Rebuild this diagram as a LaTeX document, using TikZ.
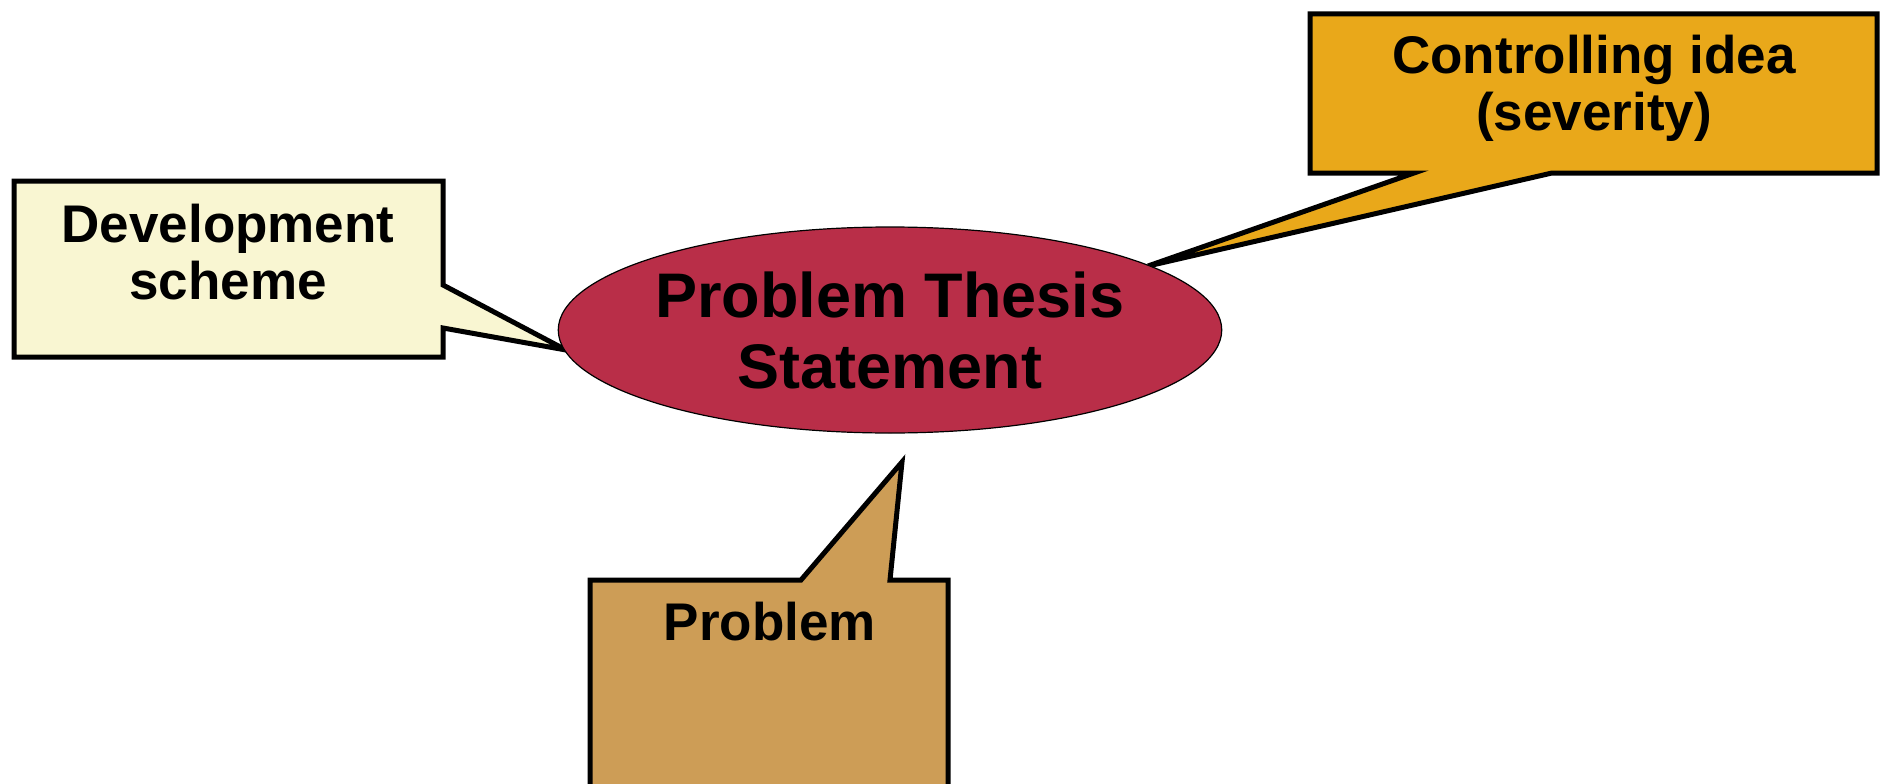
\documentclass[tikz,border=0pt]{standalone}
\usepackage{fontspec}
\setmainfont{Liberation Sans}
\usetikzlibrary{shapes.geometric}
\definecolor{devYellow}{RGB}{249,246,210}
\definecolor{ideaGold}{RGB}{233,168,26}
\definecolor{probTan}{RGB}{205,157,86}
\definecolor{thesisRed}{RGB}{185,46,72}

\begin{document}
\begin{tikzpicture}[x=1pt, y=-1pt,
  bubble/.style={draw=black, line width=5pt, line join=miter},
  lbl/.style={font=\bfseries\fontsize{53}{57}\selectfont, align=center, inner sep=0pt}]
  \useasboundingbox (0,0) rectangle (1882,784);
  \clip (0,0) rectangle (1882,784);
  \coordinate (devtip) at (566,350);
  \coordinate (ideatip) at (1148,266);
  \coordinate (probtip) at (902,462);
  \draw[bubble, fill=devYellow] (14,181) -- (443,181) -- (443,285) -- (devtip)
    -- (443,328) -- (443,357) -- (14,357) -- cycle;
  \draw[bubble, fill=ideaGold] (1310,14) -- (1877,14) -- (1877,173) -- (1552,173)
    -- (ideatip) -- (1414,173) -- (1310,173) -- cycle;
  \node[ellipse, draw=black, line width=1.2pt, fill=thesisRed, minimum width=660pt,
    minimum height=206pt, inner sep=0pt, align=center,
    font=\bfseries\fontsize{63}{71}\selectfont] (thesis) at (890,330) {Problem Thesis\\Statement};
  \draw[bubble, fill=probTan] (590,800) -- (590,580) -- (801,580) -- (probtip)
    -- (890,580) -- (948,580) -- (948,800);
  \node[lbl, anchor=base] (devtext) at (228,299) {Development\\scheme};
  \node[lbl, anchor=base] (ideatext) at (1594,130) {Controlling idea\\(severity)};
  \node[lbl, anchor=base] (probtext) at (770,640) {Problem};
\end{tikzpicture}
\end{document}
